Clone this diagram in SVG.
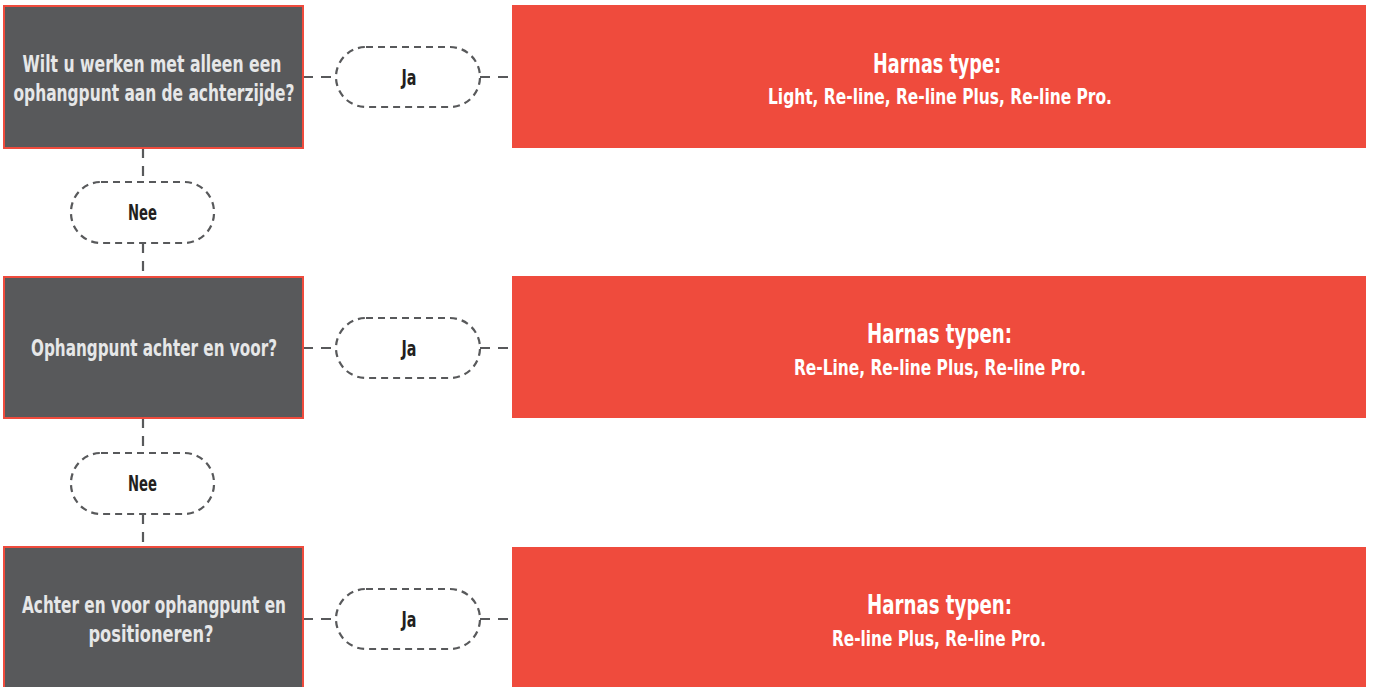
<svg xmlns="http://www.w3.org/2000/svg" width="1373" height="687" viewBox="0 0 1373 687">
<style>
.q{fill:#58595b;stroke:#ef4b3d;stroke-width:2}
.a{fill:#ef4b3d}
.pill{fill:#fff;stroke:#58595b;stroke-width:2.2;stroke-dasharray:7 5}
.c{stroke:#58595b;stroke-width:2.2;stroke-dasharray:10 8;fill:none}
text{font-family:"DejaVu Sans Condensed","Liberation Sans",sans-serif;font-weight:bold;text-anchor:middle}
.qt{fill:#e6e7e8;font-size:23px}
.pt{fill:#231f20;font-size:21px}
.h{fill:#fff;font-size:27px}
.s{fill:#fff;font-size:22px}
</style>
<g id="connectors">
<path class="c" d="M303 77H336M480 77H512M303 348H336M480 348H512M303 619H336M480 619H512"/>
<path class="c" d="M143 148V181M143 243V277M143 418V452M143 514V547"/>
</g>
<g id="q1"><rect class="q" x="4" y="6" width="299" height="142"/><text class="qt" x="152" y="72" textLength="259" lengthAdjust="spacingAndGlyphs">Wilt u werken met alleen een</text><text class="qt" x="154" y="101" textLength="281" lengthAdjust="spacingAndGlyphs">ophangpunt aan de achterzijde?</text></g>
<g id="q2"><rect class="q" x="4" y="277" width="299" height="141"/><text class="qt" x="154" y="356" textLength="246" lengthAdjust="spacingAndGlyphs">Ophangpunt achter en voor?</text></g>
<g id="q3"><rect class="q" x="4" y="547" width="299" height="145"/><text class="qt" x="154" y="613" textLength="264" lengthAdjust="spacingAndGlyphs">Achter en voor ophangpunt en</text><text class="qt" x="151" y="642" textLength="125" lengthAdjust="spacingAndGlyphs">positioneren?</text></g>
<g id="ja1"><rect class="pill" x="336" y="47" width="144" height="60" rx="30"/><text class="pt" x="409" y="85" textLength="15" lengthAdjust="spacingAndGlyphs">Ja</text></g>
<g id="ja2"><rect class="pill" x="336" y="318" width="144" height="60" rx="30"/><text class="pt" x="409" y="356" textLength="15" lengthAdjust="spacingAndGlyphs">Ja</text></g>
<g id="ja3"><rect class="pill" x="336" y="589" width="144" height="60" rx="30"/><text class="pt" x="409" y="627" textLength="15" lengthAdjust="spacingAndGlyphs">Ja</text></g>
<g id="nee1"><rect class="pill" x="71" y="182" width="143" height="61" rx="30"/><text class="pt" x="142.5" y="220" textLength="29" lengthAdjust="spacingAndGlyphs">Nee</text></g>
<g id="nee2"><rect class="pill" x="71" y="453" width="143" height="61" rx="30"/><text class="pt" x="142.5" y="491" textLength="29" lengthAdjust="spacingAndGlyphs">Nee</text></g>
<g id="r1"><rect class="a" x="512" y="5" width="854" height="143"/><text class="h" x="937" y="73" textLength="128" lengthAdjust="spacingAndGlyphs">Harnas type:</text><text class="s" x="940" y="104" textLength="344" lengthAdjust="spacingAndGlyphs">Light, Re-line, Re-line Plus, Re-line Pro.</text></g>
<g id="r2"><rect class="a" x="512" y="276" width="854" height="142"/><text class="h" x="939.5" y="343" textLength="145" lengthAdjust="spacingAndGlyphs">Harnas typen:</text><text class="s" x="940" y="375" textLength="292" lengthAdjust="spacingAndGlyphs">Re-Line, Re-line Plus, Re-line Pro.</text></g>
<g id="r3"><rect class="a" x="512" y="547" width="854" height="142"/><text class="h" x="939.5" y="614" textLength="145" lengthAdjust="spacingAndGlyphs">Harnas typen:</text><text class="s" x="939" y="646" textLength="214" lengthAdjust="spacingAndGlyphs">Re-line Plus, Re-line Pro.</text></g>
</svg>
